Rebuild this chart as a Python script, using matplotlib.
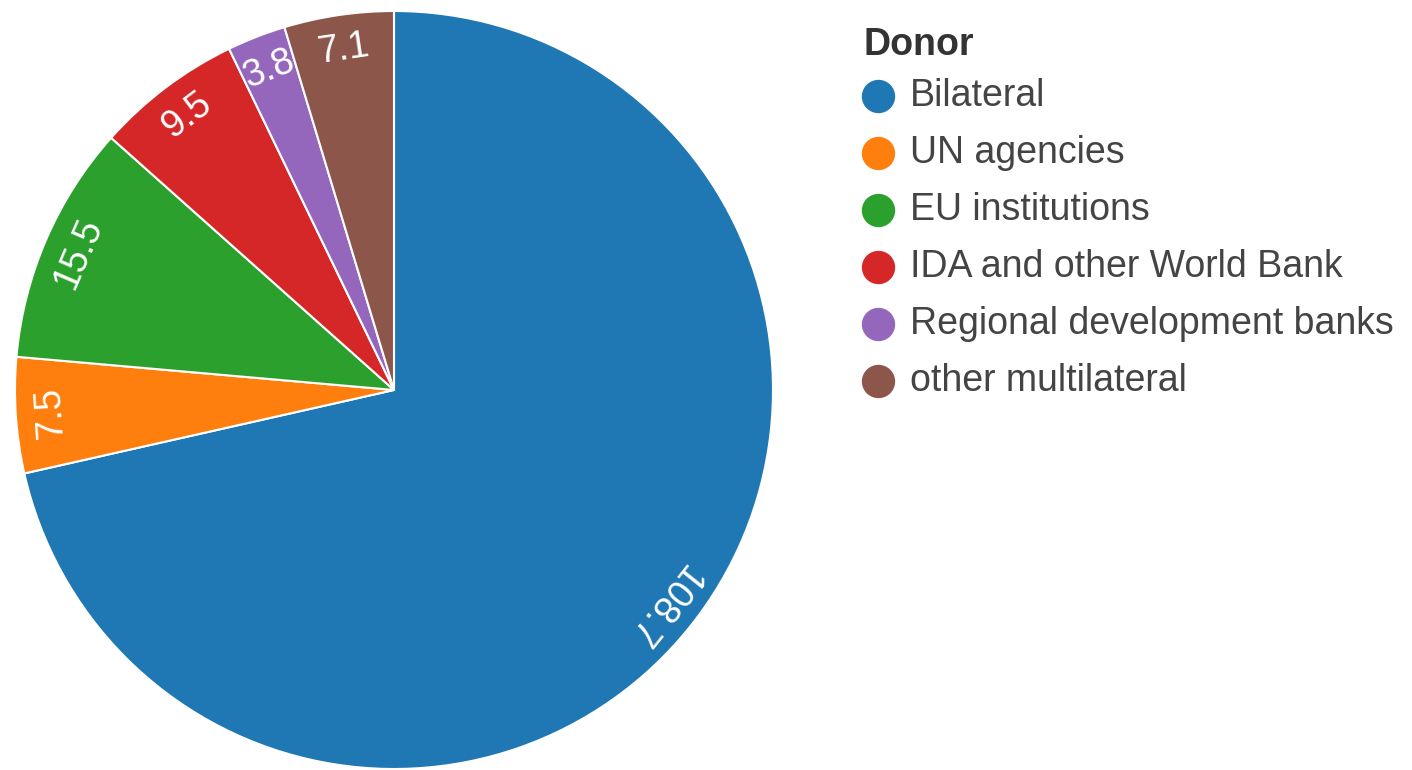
import numpy as np
import matplotlib
matplotlib.use('Agg')
import matplotlib.pyplot as plt
from matplotlib.lines import Line2D

plt.rcParams['font.family'] = ['Liberation Sans', 'DejaVu Sans']

donors = ['Bilateral', 'UN agencies', 'EU institutions', 'IDA and other World Bank',
          'Regional development banks', 'other multilateral']
amounts = [108.7, 7.5, 15.5, 9.5, 3.8, 7.1]
labels = ['108.7', '7.5', '15.5', '9.5', '3.8', '7.1']
colors = ['#1f77b4', '#ff7f0e', '#2ca02c', '#d62728', '#9467bd', '#8c564b']

W, H = 1412, 770
fig = plt.figure(figsize=(W / 100, H / 100), dpi=100)

# pie centre and radius in pixels
cx, cy, r = 394, 390, 379
ax = fig.add_axes([(cx - r) / W, (H - cy - r) / H, 2 * r / W, 2 * r / H])
ax.pie(amounts, colors=colors, startangle=90, counterclock=False, radius=1,
       wedgeprops=dict(edgecolor='white', linewidth=1.5))
ax.set_xlim(-1, 1)
ax.set_ylim(-1, 1)
ax.set_aspect('equal')
ax.axis('off')

# radial labels, angle measured clockwise from 12 o'clock
vals = np.array(amounts)
ends = np.cumsum(vals) / vals.sum() * 360
starts = ends - vals / vals.sum() * 360
mids = (starts + ends) / 2
for lab, a in zip(labels, mids):
    t = np.radians(a)
    rr = 0.908
    ax.text(rr * np.sin(t), rr * np.cos(t), lab, rotation=-a, rotation_mode='anchor',
            ha='center', va='center', color='white', fontsize=27)

# legend
fig.text(864 / W, 1 - 45 / H, 'Donor', fontsize=27, fontweight='bold',
         color='#333333', ha='left', va='center')
y0, dy = 96, 57
for i, (name, c) in enumerate(zip(donors, colors)):
    y = 1 - (y0 + i * dy) / H
    fig.add_artist(Line2D([878 / W], [y], marker='o', markersize=23,
                          markerfacecolor=c, markeredgecolor=c, transform=fig.transFigure))
    fig.text(910 / W, y, name, fontsize=27, color='#444444', ha='left', va='center')

fig.savefig('out.png', dpi=100)
